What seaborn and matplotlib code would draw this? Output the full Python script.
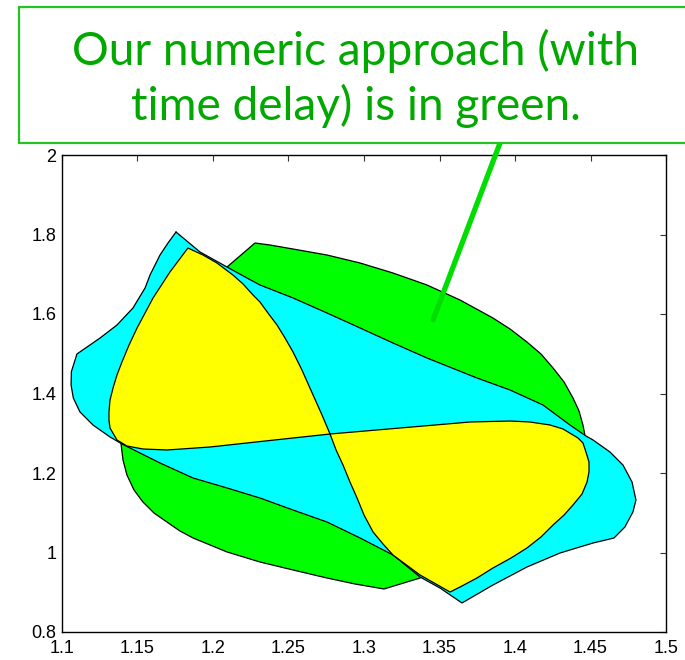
import matplotlib
matplotlib.use("Agg")
import matplotlib.pyplot as plt
import matplotlib.patheffects as pe
from matplotlib.patches import Rectangle
import seaborn as sns

# Reachable-set outlines (x, y), each a closed boundary
green_x = [1.2093, 1.2278, 1.2377, 1.2530, 1.2755, 1.2974, 1.3192, 1.3417, 1.3636,
           1.3854, 1.3967, 1.4079, 1.4172, 1.4252, 1.4325, 1.4384, 1.4424, 1.4450,
           1.4464, 1.3371, 1.3132, 1.2940, 1.2755, 1.2530, 1.2311, 1.2093, 1.1868,
           1.1781, 1.1695, 1.1609, 1.1536, 1.1477, 1.1430, 1.1404, 1.1391]
green_y = [1.7182, 1.7786, 1.7736, 1.7635, 1.7484, 1.7283, 1.7031, 1.6730, 1.6352,
           1.5899, 1.5623, 1.5296, 1.4994, 1.4642, 1.4289, 1.3887, 1.3560, 1.3208,
           1.2931, 0.9358, 0.9082, 0.9208, 0.9358, 0.9560, 0.9761, 1.0013, 1.0365,
           1.0541, 1.0767, 1.0994, 1.1270, 1.1572, 1.1950, 1.2327, 1.2730]

cyan_x = [1.1755, 1.1702, 1.1649, 1.1583, 1.1550, 1.1470, 1.1364, 1.1252, 1.1099,
          1.1062, 1.1060, 1.1075, 1.1119, 1.1205, 1.1318, 1.1397, 1.1649, 1.1868,
          1.2093, 1.2311, 1.2530, 1.2755, 1.2974, 1.3192, 1.3371, 1.3503, 1.3649,
          1.3854, 1.4079, 1.4298, 1.4517, 1.4656, 1.4728, 1.4781, 1.4801, 1.4775,
          1.4715, 1.4629, 1.4517, 1.4470, 1.4364, 1.4185, 1.3967, 1.3748, 1.3417,
          1.3192, 1.2974, 1.2755, 1.2530, 1.2311, 1.2225, 1.2093, 1.1914]
cyan_y = [1.8063, 1.7786, 1.7484, 1.6981, 1.6654, 1.6151, 1.5723, 1.5396, 1.4994,
          1.4548, 1.4214, 1.3887, 1.3535, 1.3208, 1.2906, 1.2730, 1.2252, 1.1874,
          1.1623, 1.1371, 1.1069, 1.0767, 1.0365, 0.9937, 0.9384, 0.9107, 0.8730,
          0.9182, 0.9635, 0.9987, 1.0239, 1.0365, 1.0642, 1.1019, 1.1321, 1.1774,
          1.2201, 1.2528, 1.2830, 1.2931, 1.3208, 1.3711, 1.4088, 1.4390, 1.4893,
          1.5270, 1.5648, 1.6025, 1.6403, 1.6730, 1.6906, 1.7182, 1.7560]

yellow_x = [1.2775, 1.2722, 1.2642, 1.2589, 1.2530, 1.2477, 1.2424, 1.2364, 1.2311,
            1.2265, 1.2199, 1.2132, 1.2079, 1.2026, 1.1934, 1.1834, 1.1715, 1.1603,
            1.1550, 1.1497, 1.1444, 1.1397, 1.1364, 1.1338, 1.1318, 1.1311, 1.1311,
            1.1318, 1.1364, 1.1430, 1.1536, 1.1695, 1.1980, 1.2377, 1.2775, 1.3702,
            1.3967, 1.4099, 1.4232, 1.4318, 1.4417, 1.4450, 1.4470, 1.4490, 1.4490,
            1.4477, 1.4444, 1.4384, 1.4325, 1.4252, 1.4172, 1.4079, 1.3974, 1.3854,
            1.3748, 1.3636, 1.3570, 1.3371, 1.3192, 1.3126, 1.3060, 1.3000, 1.2954,
            1.2907, 1.2861, 1.2815]
yellow_y = [1.2981, 1.3459, 1.4138, 1.4591, 1.5044, 1.5396, 1.5723, 1.6025, 1.6302,
            1.6478, 1.6755, 1.6981, 1.7132, 1.7283, 1.7484, 1.7660, 1.7057, 1.6403,
            1.6025, 1.5648, 1.5220, 1.4792, 1.4465, 1.4138, 1.3836, 1.3535, 1.3333,
            1.3132, 1.2830, 1.2679, 1.2604, 1.2579, 1.2654, 1.2818, 1.2981, 1.3283,
            1.3308, 1.3283, 1.3208, 1.3107, 1.2881, 1.2755, 1.2528, 1.2277, 1.2025,
            1.1774, 1.1472, 1.1195, 1.0943, 1.0692, 1.0390, 1.0113, 0.9862, 0.9610,
            0.9358, 0.9132, 0.9006, 0.9434, 0.9937, 1.0214, 1.0516, 1.0943, 1.1371,
            1.1774, 1.2201, 1.2579]

x_ticks = [1.1, 1.15, 1.2, 1.25, 1.3, 1.35, 1.4, 1.45, 1.5]
x_labels = ["1.1", "1.15", "1.2", "1.25", "1.3", "1.35", "1.4", "1.45", "1.5"]
y_ticks = [0.8, 1.0, 1.2, 1.4, 1.6, 1.8, 2.0]
y_labels = ["0.8", "1", "1.2", "1.4", "1.6", "1.8", "2"]

callout_lines = ["Our numeric approach (with", "time delay) is in green."]
arrow_tip = (1.3457, 1.585)

sns.set_style("white")
plt.rcParams["font.family"] = ["Liberation Sans", "DejaVu Sans"]

W, H = 685, 660
fig = plt.figure(figsize=(W / 100, H / 100), dpi=100)
ax = fig.add_axes([62 / W, 1 - 632 / H, 604 / W, 477 / H])

layers = [
    (green_x, green_y, "#00ff00"),
    (cyan_x, cyan_y, "#00ffff"),
    (yellow_x, yellow_y, "#ffff00"),
]
z = 1.0
for xs, ys, col in layers:
    ax.fill(xs, ys, facecolor=col, edgecolor="none", zorder=z)
    sns.lineplot(x=xs + xs[:1], y=ys + ys[:1], sort=False, estimator=None,
                 color="black", lw=0.9, ax=ax, zorder=z + 0.1)
    z += 0.2

ax.set_xlim(1.1, 1.5)
ax.set_ylim(0.8, 2.0)
ax.set_xticks(x_ticks)
ax.set_xticklabels(x_labels)
ax.set_yticks(y_ticks)
ax.set_yticklabels(y_labels)
ax.set_xlabel("")
ax.set_ylabel("")
ax.tick_params(direction="in", top=True, right=True, length=4, width=0.8,
               color="#333333", labelsize=13, labelcolor="black")
ax.tick_params(axis="x", pad=6)
ax.tick_params(axis="y", pad=4)
for s in ax.spines.values():
    s.set_visible(True)
    s.set_color("black")
    s.set_linewidth(1.0)

# Callout box running off the right edge
box = Rectangle((19 / W, 1 - 143 / H), 1.0, 136 / H, transform=fig.transFigure,
                facecolor="white", edgecolor="#22c422", lw=1.6, clip_on=False)
fig.add_artist(box)

t1 = fig.text(355 / W, 1 - 65 / H, callout_lines[0], ha="center", va="baseline",
              color="#00a800", family=["Lato", "DejaVu Sans"], fontsize=34)
t2 = fig.text(356 / W, 1 - 120 / H, callout_lines[1], ha="center", va="baseline",
              color="#00a800", family=["Lato", "DejaVu Sans"], fontsize=34)
fig.canvas.draw()
w1 = t1.get_window_extent().width
fs = 34 * 568 / w1
t1.set_fontsize(fs)
t2.set_fontsize(fs)

# Pointer from the callout to the green region
ann = ax.annotate("", xy=arrow_tip, xycoords="data",
                  xytext=(500, H - 143), textcoords="figure pixels",
                  arrowprops=dict(arrowstyle="-", color="#00dd00", lw=3.8,
                                  shrinkA=0, shrinkB=0, capstyle="round"),
                  annotation_clip=False, zorder=5)
ann.arrow_patch.set_path_effects([
    pe.SimplePatchShadow(offset=(2.5, -2.5), shadow_rgbFace="#888888", alpha=0.35),
    pe.Normal(),
])

fig.savefig("out.png", dpi=100)
